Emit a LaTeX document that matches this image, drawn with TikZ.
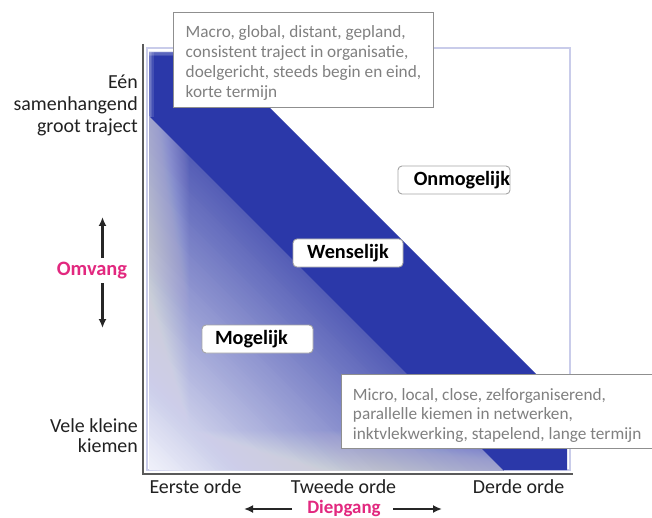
\documentclass[tikz,border=0pt]{standalone}
\usepackage{fontspec}
\setmainfont{Carlito}
\usetikzlibrary{arrows.meta}
\definecolor{band}{HTML}{2B38A9}
\definecolor{pinkc}{HTML}{E2287F}
\definecolor{boxtxt}{HTML}{808080}
\definecolor{boxline}{HTML}{8F8F8F}
\definecolor{frameL}{HTML}{C9CCEA}
\definecolor{axisc}{HTML}{5A5A5A}
\definecolor{gLight}{HTML}{F0F1FA}
\definecolor{gDark}{HTML}{545DB6}
\begin{document}
\begin{tikzpicture}[x=1bp,y=-1bp,
 descbox/.style={draw=boxline, line width=0.9bp, fill=white, text=boxtxt, font=\fontsize{17.3}{20}\selectfont, align=left, inner xsep=11.5bp, inner ysep=0pt, anchor=north west},
 lblbox/.style={draw=boxline!80, line width=0.9bp, fill=white, rounded corners=4bp, font=\fontsize{20.3}{22}\selectfont\bfseries, text=black, minimum height=28bp, inner sep=0pt},
 axislbl/.style={font=\fontsize{20}{22}\selectfont, text=black!87},
 pinklbl/.style={font=\fontsize{19}{22}\selectfont\bfseries, text=pinkc},
 arr/.style={-{Latex[length=9bp,width=8bp]}, line width=2.2bp, draw=black!85},
 soft/.style={white, opacity=0.018},
]
\useasboundingbox (0,0) rectangle (652,518);
\fill[white] (0,0) rectangle (652,518);
% inner frame
\draw[frameL, line width=1.2bp] (147,48) rectangle (570,470);
% gradient triangle, built from strips parallel to the band
\foreach \i in {0,...,89} {
  \pgfmathsetmacro{\c}{-321 + 3.93*\i}
  \pgfmathsetmacro{\ya}{149-\c}
  \pgfmathsetmacro{\xb}{470+\c}
  \pgfmathtruncatemacro{\p}{100*\i/89}
  \fill[gDark!\p!gLight] (149,\ya) -- (149,116) -- (503,470) -- (\xb,470) -- cycle;
}
% soft edges (left and bottom)
\foreach \k in {1,...,40} {
  \fill[soft] (148.5,116) rectangle ({148.5+\k},470.5);
  \fill[soft] (148.5,{470.5-\k}) rectangle (503,470.5);
}
% band
\fill[band] (149,52) -- (214,52) -- (567,405) -- (567,470) -- (503,470) -- (149,116) -- cycle;
\foreach \k in {1,2,3} {
  \fill[white, opacity=0.12] (149,52) rectangle ({149+1.5*\k},117);
  \fill[white, opacity=0.12] (149,52) rectangle (214,{52+1.5*\k});
}
% axes
\draw[axisc, line width=1.6bp] (143,44) -- (143,474) -- (573,474);
% description boxes
\node[descbox, minimum width=260bp, minimum height=95bp] (macro) at (173,12) {\rule{0pt}{17.5bp}Macro, global, distant, gepland,\\consistent traject in organisatie,\\doelgericht, steeds begin en eind,\\korte termijn};
\node[descbox, minimum width=309bp, minimum height=74bp] (micro) at (341,374) {\rule{0pt}{20bp}Micro, local, close, zelforganiserend,\\parallelle kiemen in netwerken,\\inktvlekwerking, stapelend, lange termijn};
% region labels
\node[lblbox, text width=112bp, align=right] (onmog) at (454,180) {Onmogelijk};
\node[lblbox, minimum width=110bp] (wens) at (348,253) {Wenselijk};
\node[lblbox, inner xsep=13bp, text width=85bp, align=left] (mog) at (257.5,339) {Mogelijk};
% left labels
\node[axislbl, anchor=east, align=right, inner sep=0pt] (groot) at (138,105) {Eén\\samenhangend\\groot traject};
\node[axislbl, anchor=east, align=right, inner sep=0pt, font=\fontsize{20}{19.5}\selectfont] (vele) at (138,435.5) {Vele kleine\\kiemen};
\node[pinklbl, font=\fontsize{20.5}{22}\selectfont\bfseries, inner sep=0pt] (omvang) at (92,270.5) {Omvang};
\coordinate (omUpS) at (102.5,258); \coordinate (omUpE) at (102.5,217);
\coordinate (omDnS) at (102.5,283); \coordinate (omDnE) at (102.5,328);
\draw[arr] (omUpS) -- (omUpE);
\draw[arr] (omDnS) -- (omDnE);
% bottom labels
\node[axislbl, inner sep=0pt] (eerste) at (195.5,487) {Eerste orde};
\node[axislbl, inner sep=0pt] (tweede) at (343.5,487) {Tweede orde};
\node[axislbl, inner sep=0pt] (derde) at (518.5,487) {Derde orde};
\node[pinklbl, inner sep=0pt] (diep) at (344,508.5) {Diepgang};
\coordinate (dLs) at (292,509); \coordinate (dLe) at (244,509);
\coordinate (dRs) at (393,509); \coordinate (dRe) at (442,509);
\draw[arr] (dLs) -- (dLe);
\draw[arr] (dRs) -- (dRe);
\end{tikzpicture}
\end{document}
